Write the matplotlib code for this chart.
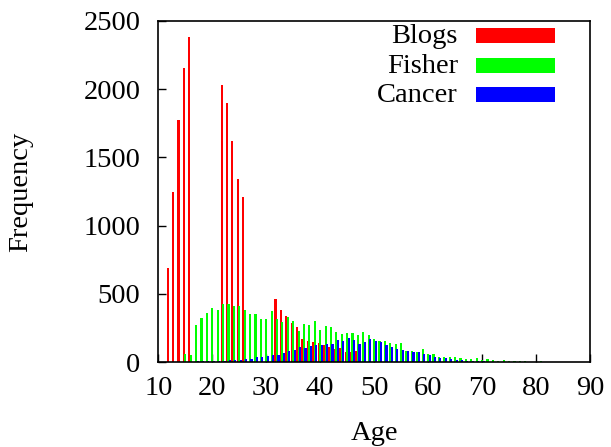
import numpy as np
import matplotlib
matplotlib.use('Agg')
import matplotlib.pyplot as plt
from matplotlib.patches import Rectangle

plt.rcParams['font.family'] = ['Liberation Serif', 'DejaVu Serif']

# ages (bin positions) and frequencies
blogs_age = [12, 13, 14, 15, 16,
             22, 23, 24, 25, 26,
             32, 33, 34, 35, 36, 37, 38, 39, 40, 41, 42, 43, 44, 45, 46, 47]
blogs_freq = [692, 1247, 1774, 2152, 2381,
              2028, 1896, 1620, 1342, 1208,
              466, 383, 341, 290, 261, 171, 156, 149, 143, 127, 110, 100, 105, 76, 76, 81]

fisher_age = list(range(15, 82))
fisher_freq = [61, 53, 273, 324, 361, 397, 383, 427, 429, 412,
               410, 380, 356, 354, 319, 317, 378, 319, 297, 332,
               305, 231, 280, 273, 302, 236, 266, 261, 224, 209,
               214, 214, 200, 222, 197, 173, 156, 156, 139, 134,
               139, 85, 83, 73, 97, 63, 63, 41, 39, 39,
               39, 29, 24, 24, 31, 17, 24, 15, 10, 17,
               10, 10, 10, 10, 5, 5, 8]

cancer_age = list(range(17, 81))
cancer_freq = [10, 8, 6, 10, 10, 10, 20, 15, 15, 24,
               22, 37, 39, 46, 54, 54, 66, 85, 93, 110,
               107, 119, 129, 127, 134, 137, 166, 158, 178, 163,
               134, 151, 171, 154, 147, 124, 115, 100, 93, 83,
               76, 73, 61, 56, 41, 34, 32, 27, 20, 15,
               12, 10, 8, 6, 5, 4, 3, 3, 2, 2,
               2, 1, 1, 1]

series = [('Blogs', blogs_age, blogs_freq, -0.27, '#ff0000'),
          ('Fisher', fisher_age, fisher_freq, 0.0, '#00ff00'),
          ('Cancer', cancer_age, cancer_freq, 0.28, '#0000ff')]

fig = plt.figure(figsize=(6.11, 4.47), dpi=100)
ax = fig.add_axes([0.2591, 0.1895, 0.9656 - 0.2591, 0.9537 - 0.1895])

for name, age, freq, off, col in series:
    ax.bar(np.array(age) + off, freq, width=0.4, color=col, linewidth=0)

ax.set_xlim(10, 90)
ax.set_ylim(0, 2500)
ax.set_xticks(range(10, 91, 10))
ax.set_yticks(range(0, 2501, 500))
ax.set_axisbelow(True)
ax.tick_params(direction='in', length=6, width=1, labelsize=20.5, pad=10)
ax.tick_params(axis='y', pad=13)
for s in ax.spines.values():
    s.set_linewidth(1.2)

ax.set_xlabel('Age', fontsize=20.5)
ax.set_ylabel('Frequency', fontsize=20.5)
ax.xaxis.set_label_coords(0.5, -0.172)
ax.yaxis.set_label_coords(-0.29, 0.5)

# legend: text left of the colour sample, as in the original
h = ax.bbox.height
for i, (name, age, freq, off, col) in enumerate(series):
    base = 0.9337 - i * 0.0855
    ax.text(0.694, base, name, transform=ax.transAxes, ha='right',
            va='baseline', fontsize=20.5)
    ax.add_patch(Rectangle((0.7352, base), 0.919 - 0.7352, 15 / h,
                           transform=ax.transAxes, color=col, linewidth=0))

fig.savefig('out.png', dpi=100)
